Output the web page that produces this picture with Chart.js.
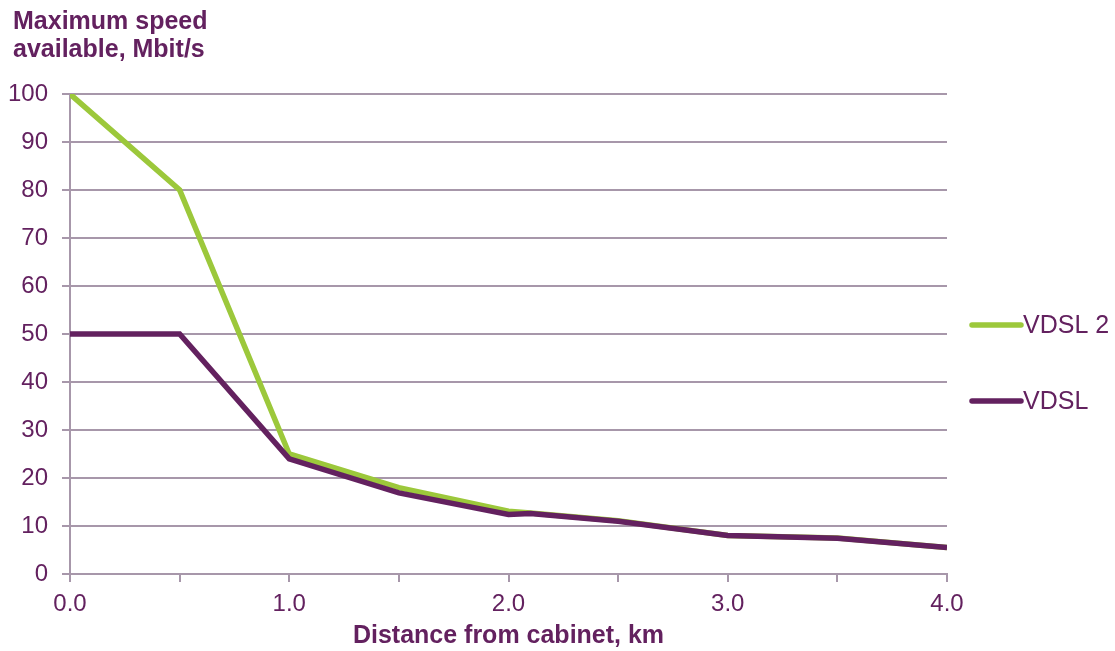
<!DOCTYPE html>
<html>
<head>
<meta charset="utf-8">
<script src="https://cdn.jsdelivr.net/npm/chart.js@4.4.1/dist/chart.umd.min.js"></script>
<style>
  html, body { margin: 0; padding: 0; background: #fff; }
  #wrap { width: 1115px; height: 651px; position: relative; }
</style>
</head>
<body>
<div id="wrap"><canvas id="speedChart" width="1115" height="651"></canvas></div>
<script>
// Distance (km) and maximum speed (Mbit/s)
const distances = [0.0, 0.5, 1.0, 1.5, 2.0, 2.1, 2.5, 3.0, 3.5, 4.0];
const vdsl2 = [100, 80, 25, 18, 13.1, 12.7, 11.1, 8.0, 7.5, 5.5];
const vdsl  = [50, 50, 24, 16.9, 12.4, 12.6, 11.0, 8.0, 7.45, 5.5];
const seriesNames = ['VDSL 2', 'VDSL'];
const yTitle = ['Maximum speed', 'available, Mbit/s'];
const xTitle = 'Distance from cabinet, km';

const PURPLE = '#63215f';
const GREEN = '#9cc83b';
const GRID = '#a797aa';
const FONT = '"Liberation Sans", Arial, sans-serif';

function toPoints(ys) {
    return distances.map((d, i) => ({ x: d, y: ys[i] }));
}

// y-axis title and legend drawn by hand
const extras = {
    id: 'extras',
    afterDraw(chart) {
        const ctx = chart.ctx;
        ctx.save();
        ctx.fillStyle = PURPLE;
        ctx.font = 'bold 25px ' + FONT;
        ctx.textBaseline = 'alphabetic';
        ctx.textAlign = 'left';
        yTitle.forEach((t, i) => ctx.fillText(t, 13, 29 + i * 28));

        // legend (green first, like the picture)
        const rows = [
            { name: seriesNames[0], color: GREEN, y: 325 },
            { name: seriesNames[1], color: PURPLE, y: 401 }
        ];
        ctx.font = '25px ' + FONT;
        ctx.textBaseline = 'middle';
        rows.forEach(r => {
            ctx.strokeStyle = r.color;
            ctx.lineWidth = 5.5;
            ctx.lineCap = 'round';
            ctx.beginPath();
            ctx.moveTo(972, r.y);
            ctx.lineTo(1021, r.y);
            ctx.stroke();
            ctx.fillStyle = PURPLE;
            ctx.fillText(r.name, 1023, r.y + 1);
        });
        ctx.restore();
    }
};

new Chart(document.getElementById('speedChart'), {
    type: 'line',
    data: {
        datasets: [
            {
                label: seriesNames[1],
                data: toPoints(vdsl),
                borderColor: PURPLE,
                borderWidth: 5.5,
                pointRadius: 0,
                tension: 0,
                borderJoinStyle: 'miter'
            },
            {
                label: seriesNames[0],
                data: toPoints(vdsl2),
                borderColor: GREEN,
                borderWidth: 5.5,
                pointRadius: 0,
                tension: 0,
                borderJoinStyle: 'miter'
            }
        ]
    },
    options: {
        responsive: false,
        animation: false,
        layout: { padding: { top: 94, right: 168, left: 0, bottom: 0 } },
        plugins: {
            legend: { display: false },
            tooltip: { enabled: false }
        },
        scales: {
            x: {
                type: 'linear',
                min: 0,
                max: 4,
                afterFit: s => { s.height = 77; },
                ticks: {
                    stepSize: 0.5,
                    color: PURPLE,
                    font: { family: FONT, size: 24 },
                    padding: 8,
                    maxRotation: 0,
                    autoSkip: false,
                    callback: v => (Math.abs(v - Math.round(v)) < 1e-6 ? v.toFixed(1) : '')
                },
                grid: {
                    drawOnChartArea: false,
                    color: GRID,
                    lineWidth: 2,
                    tickLength: 8
                },
                border: { color: GRID, width: 2 },
                title: {
                    display: true,
                    text: xTitle,
                    color: PURPLE,
                    font: { family: FONT, size: 25, weight: 'bold' },
                    padding: { top: 0, bottom: 0 }
                }
            },
            y: {
                min: 0,
                max: 100,
                afterFit: s => { s.width = 70; },
                ticks: {
                    stepSize: 10,
                    color: PURPLE,
                    font: { family: FONT, size: 24 },
                    padding: 14
                },
                grid: {
                    color: GRID,
                    lineWidth: 2,
                    tickLength: 8
                },
                border: { color: GRID, width: 2 }
            }
        }
    },
    plugins: [extras]
});
</script>
</body>
</html>
